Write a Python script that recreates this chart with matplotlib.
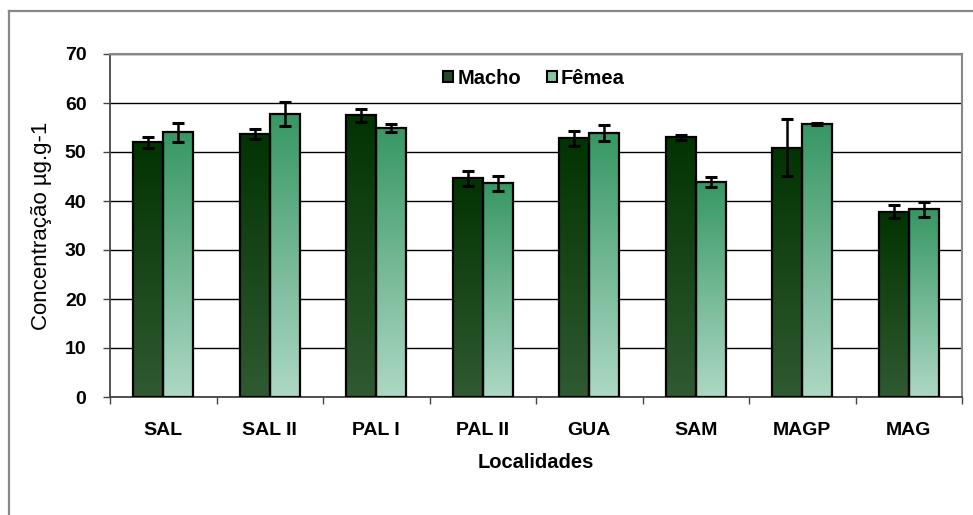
import matplotlib
matplotlib.use("Agg")
import matplotlib.pyplot as plt
import numpy as np
from matplotlib.colors import LinearSegmentedColormap
from matplotlib.patches import Patch
from matplotlib.lines import Line2D

plt.rcParams['font.family'] = ['Liberation Sans', 'DejaVu Sans']

localidades = ["SAL", "SAL II", "PAL I", "PAL II", "GUA", "SAM", "MAGP", "MAG"]
macho = [52.0, 53.7, 57.5, 44.6, 52.8, 53.0, 50.9, 37.8]
macho_err = [1.1, 1.0, 1.3, 1.55, 1.5, 0.5, 5.85, 1.35]
femea = [54.0, 57.8, 54.9, 43.6, 53.9, 43.9, 55.7, 38.3]
femea_err = [1.9, 2.5, 0.9, 1.55, 1.65, 1.1, 0.2, 1.55]

# top -> bottom gradient colours for each series
macho_grad = ["#023302", "#305A31"]
femea_grad = ["#379764", "#ADD8C4"]

fig = plt.figure(figsize=(9.73, 5.15), dpi=100)
ax = fig.add_axes([110 / 973, 1 - 397 / 515, (962 - 110) / 973, (397 - 54) / 515])

x = np.arange(len(localidades))
w = 0.28


def gradient_bars(xpos, heights, colors):
    cmap = LinearSegmentedColormap.from_list("g", colors[::-1])
    grad = np.linspace(0, 1, 256).reshape(-1, 1)
    bars = ax.bar(xpos, heights, width=w, facecolor="none", edgecolor="black",
                  linewidth=1.6, zorder=4)
    for b in bars:
        x0, y0 = b.get_x(), b.get_y()
        x1, y1 = x0 + b.get_width(), y0 + b.get_height()
        im = ax.imshow(grad, extent=[x0, x1, y0, y1], origin="lower",
                       aspect="auto", cmap=cmap, zorder=3, interpolation="bilinear")
        im.set_clip_path(b)
    return bars


gradient_bars(x - w / 2, macho, macho_grad)
gradient_bars(x + w / 2, femea, femea_grad)

ax.errorbar(x - w / 2, macho, yerr=macho_err, fmt="none", ecolor="black",
            elinewidth=1.8, capsize=4.5, capthick=2.2, zorder=5)
ax.errorbar(x + w / 2, femea, yerr=femea_err, fmt="none", ecolor="black",
            elinewidth=1.8, capsize=4.5, capthick=2.2, zorder=5)

ax.set_xlim(-0.5, len(localidades) - 0.5)
ax.set_ylim(0, 70)
ax.set_yticks(np.arange(0, 71, 10))
ax.yaxis.grid(True, color="black", linewidth=1.0, zorder=0)
ax.set_axisbelow(True)

ax.set_xticks(x)
ax.set_xticklabels(localidades, fontsize=14, fontweight="bold")
ax.tick_params(axis="x", length=0, pad=18)
ax.set_xticks(np.arange(-0.5, len(localidades), 1), minor=True)
ax.tick_params(axis="x", which="minor", length=5, color="#444444", width=1)
ax.tick_params(axis="y", length=5, width=1, color="#444444", labelsize=14, pad=12)
for lbl in ax.get_yticklabels():
    lbl.set_fontweight("bold")

for side in ["top", "right"]:
    ax.spines[side].set_color("#888888")
    ax.spines[side].set_linewidth(1.5)
for side in ["left", "bottom"]:
    ax.spines[side].set_color("#444444")
    ax.spines[side].set_linewidth(1.3)

ax.set_xlabel("Localidades", fontsize=14.5, fontweight="bold", labelpad=10)
ax.set_ylabel("Concentração µg.g-1", fontsize=16, labelpad=9)

handles = [Patch(facecolor="#24482A", edgecolor="black", linewidth=1.5),
           Patch(facecolor="#86C4A4", edgecolor="black", linewidth=1.5)]
leg = fig.legend(handles, ["Macho", "Fêmea"], loc="center",
                 bbox_to_anchor=(534 / 973, 1 - 78 / 515), ncol=2, frameon=False,
                 handlelength=0.5, handleheight=0.5, handletextpad=0.2,
                 columnspacing=1.3, prop={"weight": "bold", "size": 14.5})

# outer chart frame
fig.add_artist(Line2D([8.5 / 973, 8.5 / 973], [0, 1 - 11 / 515],
                      transform=fig.transFigure, color="#888888", linewidth=1.6))
fig.add_artist(Line2D([8.5 / 973, 1], [1 - 11 / 515, 1 - 11 / 515],
                      transform=fig.transFigure, color="#888888", linewidth=1.6))

fig.savefig("out.png", dpi=100, facecolor="white")
